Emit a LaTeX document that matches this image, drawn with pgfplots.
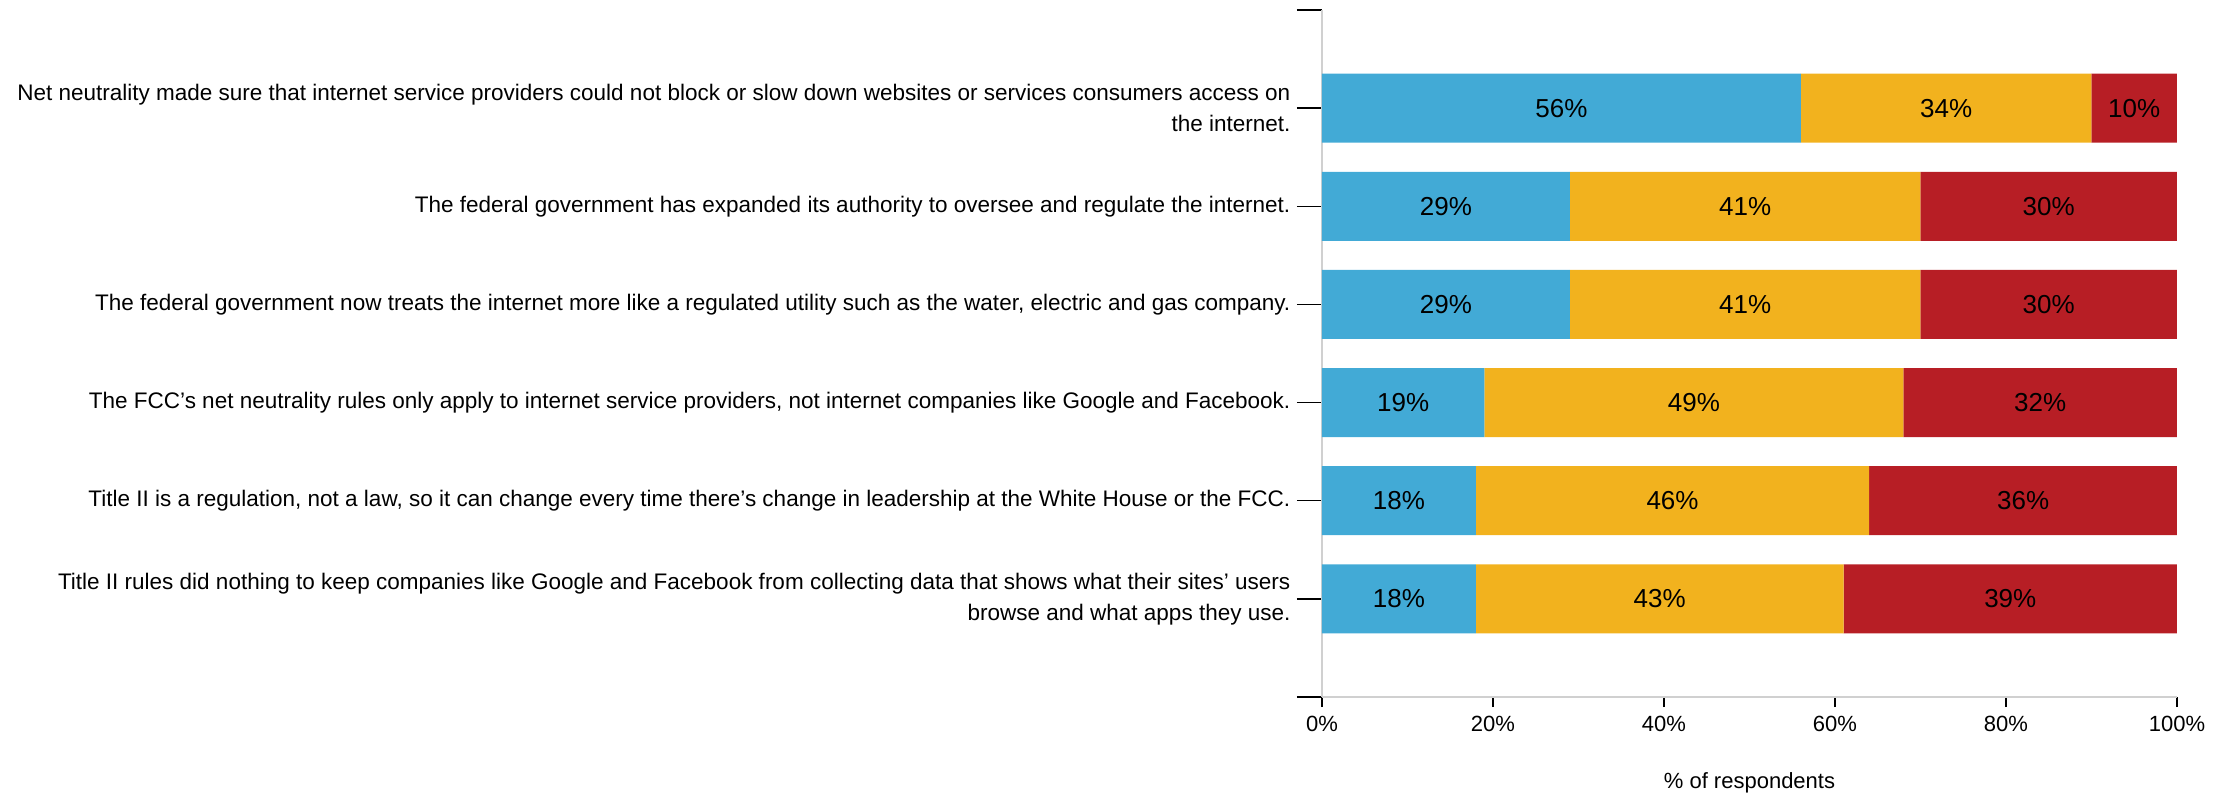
\documentclass[border=0pt]{standalone}
\usepackage{pgfplots}
\usepackage{pgfplotstable}
\usepackage{fontspec}
\setmainfont{Liberation Sans}
\pgfplotsset{compat=1.18}

\definecolor{cblue}{HTML}{42AAD6}
\definecolor{cyellow}{HTML}{F2B21E}
\definecolor{cred}{HTML}{B71E25}
\definecolor{axisgray}{HTML}{D0D0D0}

% one row per statement, y = position from bottom
\pgfplotstableread{
y a b c
5 56 34 10
4 29 41 30
3 29 41 30
2 19 49 32
1 18 46 36
0 18 43 39
}\survey

\pgfplotsset{
  common/.style={
    width=427.5pt, height=343.5pt, scale only axis,
    at={(0,0)}, anchor=south west,
    xmin=0, xmax=100, ymin=-1, ymax=6,
    /pgf/number format/assume math mode=true,
  },
}

\begin{document}
\begin{tikzpicture}
\useasboundingbox (-661pt,-47.5pt) rectangle (454.5pt,348.5pt);
\begin{axis}[
  common,
  xbar stacked, bar width=34.5pt,
  axis x line*=bottom, axis y line*=left,
  axis line style={draw=axisgray, line width=1pt},
  tick align=outside,
  xtick={0,20,...,100},
  xticklabels={0\%,20\%,40\%,60\%,80\%,100\%},
  xtick style={black, line width=0.75pt, /pgfplots/major tick length=5pt},
  ytick={-1,0,...,6},
  yticklabels={{},
    {Title II rules did nothing to keep companies like Google and Facebook from collecting data that shows what their sites’ users\\browse and what apps they use.},
    {Title II is a regulation, not a law, so it can change every time there’s change in leadership at the White House or the FCC.},
    {The FCC’s net neutrality rules only apply to internet service providers, not internet companies like Google and Facebook.},
    {The federal government now treats the internet more like a regulated utility such as the water, electric and gas company.},
    {The federal government has expanded its authority to oversee and regulate the internet.},
    {Net neutrality made sure that internet service providers could not block or slow down websites or services consumers access on\\the internet.},
    {}},
  ytick style={black, line width=0.75pt, /pgfplots/major tick length=12.5pt},
  yticklabel style={align=right, font=\fontsize{11.25}{15.5}\selectfont, xshift=-8pt},
  xticklabel style={font=\fontsize{11}{13}\selectfont, yshift=-2pt},
  xlabel={\% of respondents},
  xlabel style={font=\fontsize{11}{13}\selectfont, at={(axis description cs:0.5,-0.133)}, anchor=base},
]
\addplot[fill=cblue, draw=none] table[x=a, y=y] {\survey};
\addplot[fill=cyellow, draw=none] table[x=b, y=y] {\survey};
\addplot[fill=cred, draw=none] table[x=c, y=y] {\survey};
\end{axis}
% segment labels, centred in each segment
\begin{axis}[
  common, hide axis,
  nodes near coords={\pgfmathprintnumber{\pgfplotspointmeta}\%},
  nodes near coords align=center,
  every node near coord/.append style={font=\fontsize{13}{15}\selectfont, anchor=center, text=black},
]
\addplot[only marks, mark=none, point meta=explicit] table[x expr=\thisrow{a}/2, y=y, meta=a] {\survey};
\addplot[only marks, mark=none, point meta=explicit] table[x expr=\thisrow{a}+\thisrow{b}/2, y=y, meta=b] {\survey};
\addplot[only marks, mark=none, point meta=explicit] table[x expr=\thisrow{a}+\thisrow{b}+\thisrow{c}/2, y=y, meta=c] {\survey};
\end{axis}
\end{tikzpicture}
\end{document}
